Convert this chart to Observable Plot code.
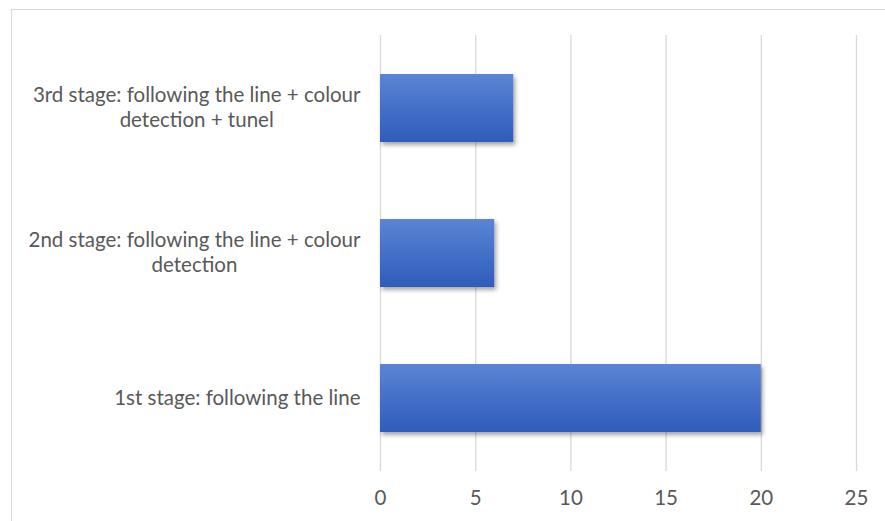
<!DOCTYPE html>
<html>
<head>
<meta charset="utf-8">
<script src="https://cdn.jsdelivr.net/npm/d3@7"></script>
<script src="https://cdn.jsdelivr.net/npm/@observablehq/plot@0.6"></script>
<style>
  html, body { margin: 0; padding: 0; background: #fff; }
  #wrap { position: relative; width: 885px; height: 521px; overflow: hidden; }
  #border {
    position: absolute; left: 11px; top: 9px; width: 900px; height: 600px;
    border-left: 1.3px solid #d9d9d9; border-top: 1.3px solid #d9d9d9;
    pointer-events: none;
  }
</style>
</head>
<body>
<div id="wrap"><div id="border"></div></div>
<script>
// Stages, top to bottom, and how many attempts each took
const stages = [
  "3rd stage: following the line + colour detection + tunel",
  "2nd stage: following the line + colour detection",
  "1st stage: following the line"
];
const stageLabels = [
  "3rd stage: following the line + colour\ndetection + tunel",
  "2nd stage: following the line + colour\ndetection",
  "1st stage: following the line"
];
const values = [7, 6, 20];
const xTicks = [0, 5, 10, 15, 20, 25];

const FONT_SIZE = 20.5;
const FONT = `${FONT_SIZE}px Lato, 'Open Sans', sans-serif`;

const data = stages.map((s, i) => ({stage: s, value: values[i]}));

// Each wrapped label is a right-aligned block whose lines are centred on each other:
// measure the widest line to find the block's centre.
const ctx = document.createElement("canvas").getContext("2d");
ctx.font = FONT;
const blockWidth = stageLabels.map(l => Math.max(...l.split("\n").map(t => ctx.measureText(t).width)));

const labelAxes = stages.map((s, i) => Plot.axisY([s], {
  tickSize: 0,
  tickPadding: 20 + blockWidth[i] / 2,
  textAnchor: "middle",
  lineHeight: 1.22,
  dy: -2,
  tickFormat: () => stageLabels[i],
  label: null,
  fontSize: FONT_SIZE,
  fill: "#595959"
}));

const chart = Plot.plot({
  width: 885,
  height: 521,
  marginLeft: 380,
  marginRight: 29,
  marginTop: 35,
  marginBottom: 50,
  style: {fontFamily: "Lato, 'Open Sans', sans-serif", fontSize: `${FONT_SIZE}px`, color: "#595959", background: "transparent"},
  x: {domain: [0, 25], ticks: xTicks},
  y: {domain: stages, paddingInner: 0.53, paddingOuter: 0.265},
  marks: [
    Plot.gridX(xTicks, {stroke: "#d9d9d9", strokeOpacity: 1, strokeWidth: 1.3}),
    Plot.barX(data, {x: "value", y: "stage", fill: "url(#barGrad)"}),
    Plot.axisX({ticks: xTicks, tickSize: 0, tickPadding: 19, label: null, fontSize: FONT_SIZE, fill: "#595959"}),
    ...labelAxes
  ]
});

// Vertical gradient and soft drop shadow for the bars
const svg = d3.select(chart);
const defs = svg.insert("defs", ":first-child");
const grad = defs.append("linearGradient").attr("id", "barGrad")
  .attr("x1", 0).attr("y1", 0).attr("x2", 0).attr("y2", 1);
grad.append("stop").attr("offset", "0%").attr("stop-color", "#5b85d5");
grad.append("stop").attr("offset", "50%").attr("stop-color", "#4470c8");
grad.append("stop").attr("offset", "100%").attr("stop-color", "#2f5cbb");
const sh = defs.append("filter").attr("id", "barShadow")
  .attr("x", "-5%").attr("y", "-10%").attr("width", "115%").attr("height", "130%");
sh.append("feDropShadow").attr("dx", 2).attr("dy", 3).attr("stdDeviation", 2)
  .attr("flood-color", "#000").attr("flood-opacity", 0.35);
svg.selectAll("g[aria-label='bar']").attr("filter", "url(#barShadow)");

document.getElementById("wrap").prepend(chart);
</script>
</body>
</html>
